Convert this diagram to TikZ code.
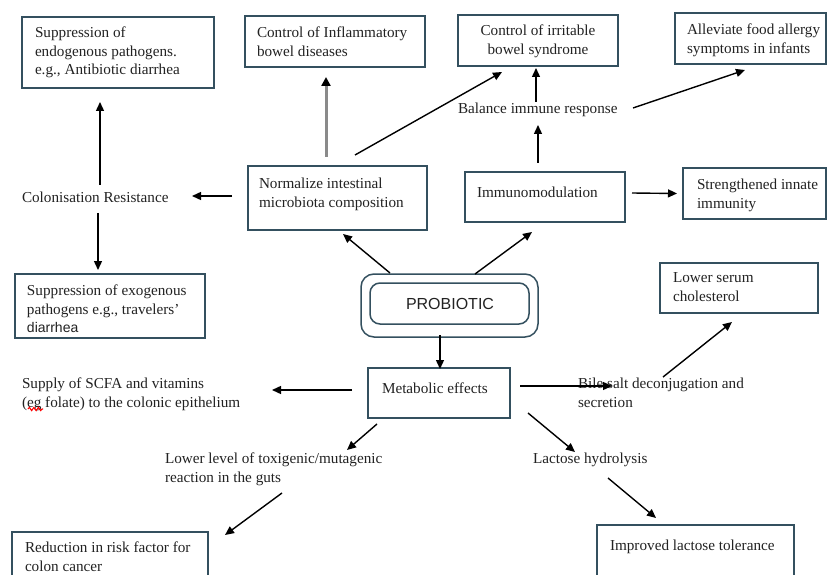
\documentclass[tikz,border=0pt]{standalone}
\usepackage{fontspec}
\setmainfont{Liberation Serif}
\newfontfamily\sansf{Liberation Sans}
\usetikzlibrary{arrows.meta,calc,decorations.pathmorphing}
\definecolor{boxc}{HTML}{34505F}
\definecolor{txtc}{HTML}{222222}
\definecolor{grayarr}{HTML}{8A8A8A}
\tikzset{
  box/.style={draw=boxc, line width=1.8pt, rectangle, inner sep=0pt, outer sep=0pt, anchor=north west},
  txt/.style={inner sep=0pt, outer sep=0pt, anchor=base west, text=txtc, font=\fontsize{15.2}{18.7}\selectfont},
  arr/.style={line width=1.4pt, -{Triangle[length=9pt,width=8pt]}},
  grayarrow/.style={draw=grayarr, line width=3pt, -{Triangle[length=9pt,width=9pt,color=black,fill=black]}},
}
\newcommand{\lns}[1]{\raisebox{-1.5pt}{\parbox[t]{240pt}{\raggedright #1}}}
\newcommand{\clns}[1]{\raisebox{-1.5pt}{\parbox[t]{160pt}{\centering #1}}}
\begin{document}
\begin{tikzpicture}[x=1pt,y=-1pt]
\clip (0,0) rectangle (828,575);
\fill[white] (0,0) rectangle (828,575);
% boxes
\node[box, minimum width=192pt, minimum height=71pt] (endo) at (22,17) {};
\node[box, minimum width=180pt, minimum height=51pt] (ibd) at (245,16) {};
\node[box, minimum width=160pt, minimum height=51pt] (ibs) at (458,15) {};
\node[box, minimum width=151pt, minimum height=51pt] (allergy) at (675,13) {};
\node[box, minimum width=179pt, minimum height=64pt] (norm) at (248,166) {};
\node[box, minimum width=160pt, minimum height=50pt] (immuno) at (465,172) {};
\node[box, minimum width=143pt, minimum height=51pt] (innate) at (683,168) {};
\node[box, minimum width=190pt, minimum height=64pt] (exo) at (15,274) {};
\node[box, minimum width=158pt, minimum height=50pt] (serum) at (660,263) {};
\node[box, minimum width=142pt, minimum height=50pt] (metab) at (368,368) {};
\node[box, minimum width=196pt, minimum height=60pt] (reduc) at (12,532) {};
\node[box, minimum width=197pt, minimum height=60pt] (improved) at (597,525) {};
% probiotic
\node[box, rounded corners=13pt, line width=1.5pt, minimum width=177pt, minimum height=63pt] (prob) at (361,274) {};
\node[box, rounded corners=10pt, line width=1.5pt, minimum width=159pt, minimum height=41pt] (probin) at (370,283) {};
\node[inner sep=0pt, text=txtc, font=\sansf\fontsize{16}{19}\selectfont] (probt) at (450,304) {PROBIOTIC};
% texts
\node[txt] (endot) at (35,36) {\lns{Suppression of\\endogenous pathogens.\\e.g., Antibiotic diarrhea}};
\node[txt] (ibdt) at (257,36) {\lns{Control of Inflammatory\\bowel diseases}};
\node[txt, anchor=base] (ibst) at (538,34) {\clns{Control of irritable\\bowel syndrome}};
\node[txt] (allergyt) at (687,33) {\lns{Alleviate food allergy\\symptoms in infants}};
\node[txt] (balance) at (458,112) {\lns{Balance immune response}};
\node[txt] (normt) at (259,187) {\lns{Normalize intestinal\\microbiota composition}};
\node[txt] (immunot) at (477,196) {\lns{Immunomodulation}};
\node[txt] (innatet) at (697,188) {\lns{Strengthened innate\\immunity}};
\node[txt] (colres) at (22,201) {\lns{Colonisation Resistance}};
\node[txt] (exot) at (27,294) {\lns{Suppression of exogenous\\pathogens e.g., travelers'\\{\sansf\fontsize{14}{17}\selectfont diarrhea}}};
\node[txt] (serumt) at (673,281) {\lns{Lower serum\\cholesterol}};
\node[txt] (metabt) at (382,392) {\lns{Metabolic effects}};
\node[txt] (supply) at (22,387) {\lns{Supply of SCFA and vitamins\\(eg folate) to the colonic epithelium}};
\node[txt] (bile) at (578,387) {\lns{Bile salt deconjugation and\\secretion}};
\node[txt] (lower) at (165,462) {\lns{Lower level of toxigenic/mutagenic\\reaction in the guts}};
\node[txt] (lactose) at (533,462) {\lns{Lactose hydrolysis}};
\node[txt] (reduct) at (25,551) {\lns{Reduction in risk factor for\\colon cancer}};
\node[txt] (improvedt) at (610,549) {\lns{Improved lactose tolerance}};
% spell-check squiggle
\draw[red, line width=1.1pt, decorate, decoration={snake, amplitude=1.6pt, segment length=4.5pt}]
  ($(supply.base west)+(6,22)$) -- ($(supply.base west)+(21,22)$);
% arrows
\draw[arr] ($(colres.base west)+(78,-16)$) -- ($(endo.south)+(-18,14)$);
\draw[arr] ($(colres.base west)+(76,12)$) -- ($(exo.north)+(-12,-4)$);
\draw[arr] ($(norm.west)+(-16,-2)$) -- ($(colres.base west)+(170,-5)$);
\draw[grayarrow] ($(norm.north)+(-11.5,-9)$) -- ($(ibd.south)+(-9,10)$);
\draw[arr] ($(norm.north)+(17.5,-11)$) -- ($(ibs.south)+(-36,6)$);
\draw[arr] ($(prob.north)+(-59.5,-1)$) -- ($(norm.south)+(5.5,4)$);
\draw[arr] ($(prob.north)+(25.5,0)$) -- ($(immuno.south)+(-13,10)$);
\draw[arr] ($(immuno.north)+(-7,-9)$) -- ($(balance.base west)+(80,13)$);
\draw[arr] ($(balance.base west)+(78,-10)$) -- ($(ibs.south)+(-2,2)$);
\draw[arr] ($(balance.base west)+(175,-4)$) -- ($(allergy.south)+(-5.5,6)$);
\draw[arr] ($(immuno.east)+(7,-4)$) -- ($(innate.west)+(-6,0)$);
\draw[arr] ($(prob.south)+(-9.5,-2)$) -- ($(metab.north)+(1,1)$);
\draw[arr] ($(metab.west)+(-16,-3)$) -- ($(supply.base west)+(250,3)$);
\draw[arr] ($(metab.south)+(-62,6)$) -- ($(lower.base west)+(182,-12)$);
\draw[arr] ($(lower.base west)+(117,31)$) -- ($(reduc.north east)+(17,3)$);
\draw[arr] ($(metab.east)+(10,-7)$) -- ($(bile.base west)+(34,-1)$);
\draw[arr] ($(bile.base west)+(85,-10)$) -- ($(serum.south)+(-7,9)$);
\draw[arr] ($(metab.south east)+(18,-5)$) -- ($(lactose.base west)+(42,-10)$);
\draw[arr] ($(lactose.base west)+(75,16)$) -- ($(improved.north)+(-39.5,-7)$);
\end{tikzpicture}
\end{document}
